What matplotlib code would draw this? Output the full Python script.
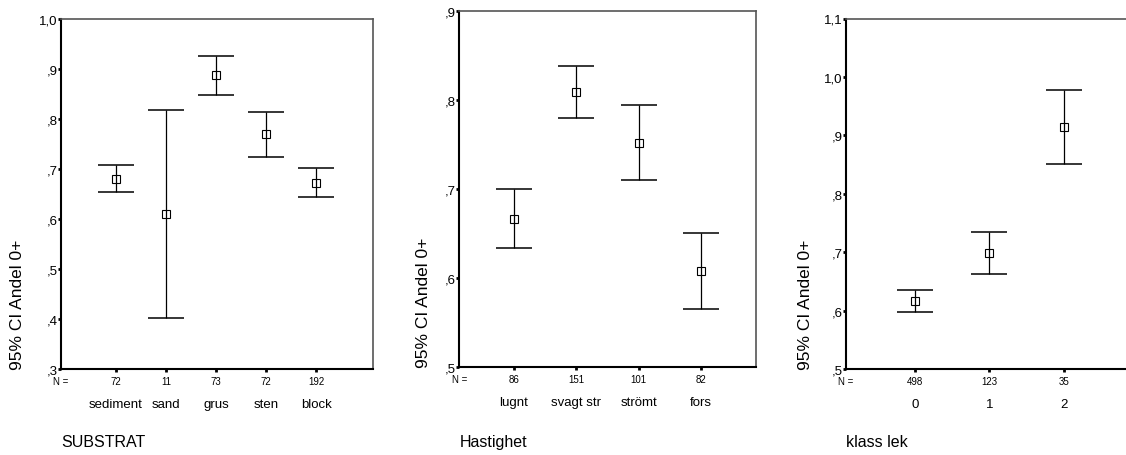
import matplotlib.pyplot as plt
from matplotlib.transforms import ScaledTranslation

plt.rcParams['font.family'] = ['Liberation Sans', 'DejaVu Sans']

# ===============================
# DATOS
# ===============================
substrat_cats = ['sediment', 'sand', 'grus', 'sten', 'block']
substrat_n = [72, 11, 73, 72, 192]
substrat_mean = [0.681, 0.610, 0.888, 0.771, 0.673]
substrat_lo = [0.654, 0.402, 0.849, 0.725, 0.644]
substrat_hi = [0.708, 0.818, 0.927, 0.815, 0.703]
substrat_yticks = [0.3, 0.4, 0.5, 0.6, 0.7, 0.8, 0.9, 1.0]

hast_cats = ['lugnt', 'svagt str', 'strömt', 'fors']
hast_n = [86, 151, 101, 82]
hast_mean = [0.666, 0.809, 0.752, 0.608]
hast_lo = [0.634, 0.780, 0.710, 0.565]
hast_hi = [0.700, 0.838, 0.794, 0.651]
hast_yticks = [0.5, 0.6, 0.7, 0.8, 0.9]

lek_cats = ['0', '1', '2']
lek_n = [498, 123, 35]
lek_mean = [0.617, 0.699, 0.914]
lek_lo = [0.598, 0.663, 0.851]
lek_hi = [0.636, 0.734, 0.977]
lek_yticks = [0.5, 0.6, 0.7, 0.8, 0.9, 1.0, 1.1]

ylabel = '95% CI Andel 0+'

W, H = 1126, 456
fig = plt.figure(figsize=(W / 100, H / 100), dpi=100)


def etiqueta(v):
    s = f"{v:.1f}".replace('.', ',')
    if s.startswith('0'):
        s = s[1:]
    return s


def panel(px_left, px_right, px_top, px_bottom, xlim, cats, n, mean, lo, hi,
          yticks, titulo, ylab_px):
    ax = fig.add_axes([px_left / W, 1 - px_bottom / H,
                       (px_right - px_left) / W, (px_bottom - px_top) / H])
    x = list(range(len(cats)))
    err = [[m - l for m, l in zip(mean, lo)], [h - m for m, h in zip(mean, hi)]]
    ax.errorbar(x, mean, yerr=err, fmt='none', ecolor='black', elinewidth=0.9,
                capsize=13, capthick=1.1)
    ax.plot(x, mean, 's', ms=6, mfc='none', mec='black', mew=0.8)

    ax.set_xlim(*xlim)
    ax.set_ylim(yticks[0], yticks[-1])
    ax.set_yticks(yticks)
    ax.set_yticklabels([etiqueta(v) for v in yticks])
    ax.set_xticks(x)
    ax.set_xticklabels(cats)
    ax.tick_params(axis='y', length=2, width=2, pad=0.5, labelsize=9.5)
    ax.tick_params(axis='x', length=2, width=2, pad=19, labelsize=9.5)

    for s in ['left', 'bottom']:
        ax.spines[s].set_linewidth(1.5)
        ax.spines[s].set_color('black')
    for s in ['top', 'right']:
        ax.spines[s].set_linewidth(1.2)
        ax.spines[s].set_color('#555555')

    # fila de N
    tr = ax.get_xaxis_transform()
    down = ScaledTranslation(0, -12 / 100, fig.dpi_scale_trans)
    ax.text(xlim[0], 0, 'N =', transform=tr + down, ha='center', va='center',
            fontsize=7)
    for xi, ni in zip(x, n):
        ax.text(xi, 0, str(ni), transform=tr + down, ha='center', va='center',
                fontsize=7)

    fig.text(ylab_px / W, 1 - px_bottom / H, ylabel, rotation=90,
             ha='center', va='bottom', fontsize=12.5)
    fig.text(px_left / W, 1 - 443 / H, titulo, ha='left', va='center',
             fontsize=11.5)
    return ax


panel(61, 372.7, 20, 370, (-1.1, 5.13), substrat_cats, substrat_n,
      substrat_mean, substrat_lo, substrat_hi, substrat_yticks, 'SUBSTRAT', 18)
panel(459.3, 756, 12, 368.3, (-0.878, 3.884), hast_cats, hast_n,
      hast_mean, hast_lo, hast_hi, hast_yticks, 'Hastighet', 423)
panel(846, 1138, 19.5, 370, (-0.925, 3.0), lek_cats, lek_n,
      lek_mean, lek_lo, lek_hi, lek_yticks, 'klass lek', 805)

fig.savefig('out.png', dpi=100)
